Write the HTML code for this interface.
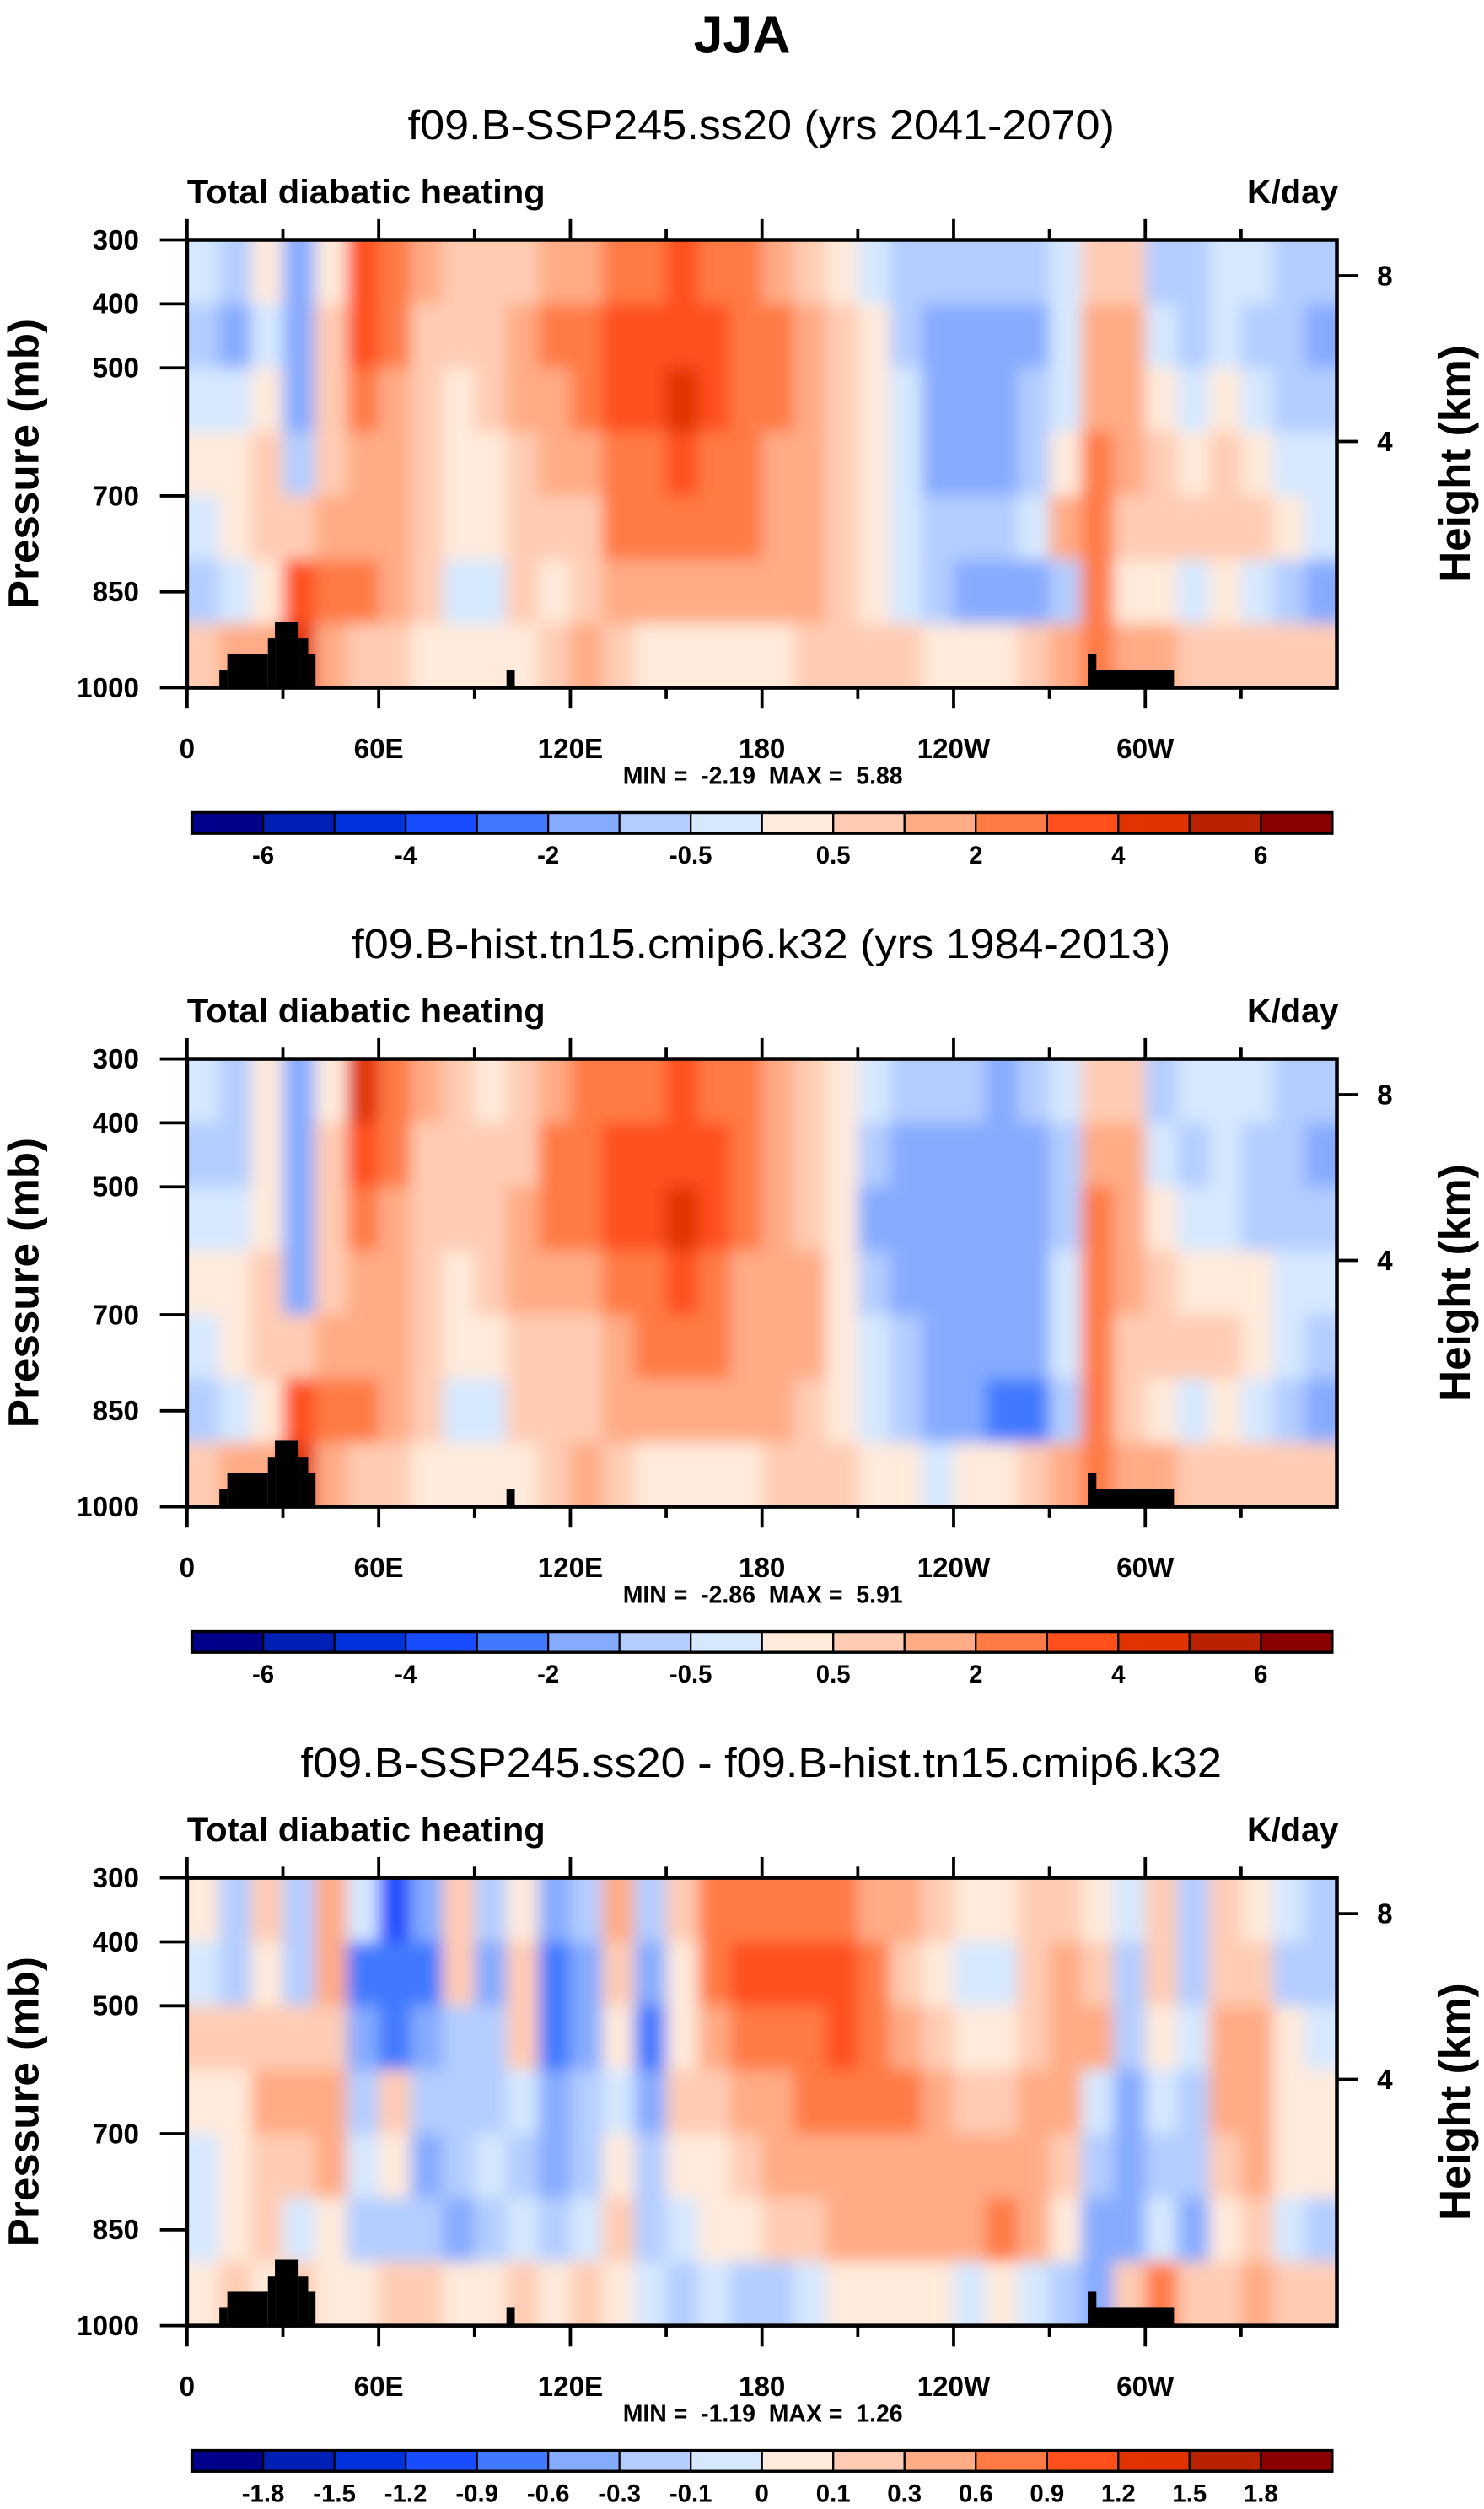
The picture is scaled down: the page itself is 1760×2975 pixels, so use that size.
<!DOCTYPE html>
<html><head><meta charset="utf-8"><style>
html,body{margin:0;padding:0;background:#fff}
svg{display:block}
text{font-family:"Liberation Sans",Arial,sans-serif}
.b{font-weight:bold}
</style></head><body>
<svg id="fig" xmlns="http://www.w3.org/2000/svg" width="1760" height="2975" viewBox="0 0 928 1568.6" preserveAspectRatio="none">
<defs>
<filter id="soft" x="-5%" y="-5%" width="110%" height="110%"><feGaussianBlur stdDeviation="5"/></filter>
</defs>
<rect x="0" y="0" width="928" height="1568.6" fill="#fff"/>
<text x="464" y="33" text-anchor="middle" class="b" font-size="33">JJA</text>
</svg>
<script>
// ---- data ----
const lonCenters = [5,15,25,35,45,55,65,75,85,95,105,115,125,135,145,155,165,175,185,195,205,215,225,235,245,255,265,275,285,295,305,315,325,335,345,355];
const levelBounds = [300,400,500,600,700,800,900,1000];
const levelsA = [-6,-5,-4,-3,-2,-1,-0.5,0,0.5,1,2,3,4,5,6];
const levelsD = [-1.8,-1.5,-1.2,-0.9,-0.6,-0.3,-0.1,0,0.1,0.3,0.6,0.9,1.2,1.5,1.8];
const labelsA = ["-6","","-4","","-2","","-0.5","","0.5","","2","","4","","6"];
const labelsD = ["-1.8","-1.5","-1.2","-0.9","-0.6","-0.3","-0.1","0","0.1","0.3","0.6","0.9","1.2","1.5","1.8"];
const xTickLons = [0,60,120,180,240,300];
const xTickLabels = ["0","60E","120E","180","120W","60W"];
const yTickP = [300,400,500,700,850,1000];
const hTicks = [8,4];
const hTickP = [356,615];
// values per longitude column, rows 300-400 ... 900-1000 mb
const field1 = [
[-0.25,-0.75,-0.25,0.25,-0.25,-0.75,0.75],[-0.75,-1.5,-0.25,0.25,0.25,-0.25,1.5],[0.25,-0.25,0.25,0.75,0.75,0.25,1.5],
[-1.5,-1.5,-1.5,-0.75,0.75,3.5,4],[0.25,0.75,0.75,0.75,1.5,2.5,1.5],[3.5,3,2.5,1.5,1.5,2,0.75],
[2.5,2.5,1.5,1.5,1.5,1.5,0.75],[1.5,0.75,0.75,0.75,0.75,0.75,0.25],[0.75,0.75,0.25,0.25,0.25,-0.5,0.25],
[0.75,0.75,0.75,0.25,0.25,-0.25,0.25],[0.75,1.5,1.5,0.75,0.75,0.75,0.25],[1.5,2,1.5,1.5,0.75,0.25,0.75],
[1.5,2.5,2.5,1.5,0.75,0.75,1.5],[2.5,3.5,3.5,2.5,2.5,1.5,0.75],[2.5,3.5,3.5,2.5,2.5,1.5,0.25],
[3.5,3.5,4,3.5,2.5,1.5,0.25],[2.5,3.5,3.5,2.5,2.5,1.5,0.25],[2.5,2.5,2.5,2.5,2.5,1.5,0.25],
[1.5,2.5,2.5,1.5,1.5,1.5,0.25],[0.75,1.5,1.5,1.5,1.5,1.5,0.75],[0.25,0.75,0.75,0.75,0.75,0.75,0.75],
[-0.25,0.25,0.25,0.25,0.25,0.25,0.75],[-0.75,-0.75,-0.25,-0.25,-0.25,-0.25,0.75],[-0.75,-1.5,-1.5,-1.5,-0.75,-0.75,0.25],
[-1,-1.5,-1.5,-1.5,-0.75,-1.5,0.25],[-1,-1.5,-1.5,-1.5,-0.75,-1.5,0.25],[-0.75,-1.5,-0.75,-0.75,-0.25,-1.5,0.75],
[-0.25,-0.25,-0.25,0.25,1,-0.75,1.5],[0.75,1.5,1.5,2.5,2.5,2.5,2.5],[0.75,1.5,1.5,1.5,0.75,0.25,1.5],
[-0.75,-0.25,0.25,0.75,0.75,0.25,1.5],[-0.75,-0.75,-0.25,0.25,0.75,-0.25,0.75],[-0.25,-0.25,0.25,0.75,0.75,0.25,0.75],
[-0.25,-0.75,-0.25,0.25,0.75,-0.25,0.75],[-0.75,-0.75,-0.75,-0.25,0.25,-0.75,0.75],[-0.75,-1.5,-1,-0.25,-0.25,-1.5,0.75]];
const field2 = [
[-0.25,-0.75,-0.25,0.25,-0.25,-0.75,0.75],[-0.75,-1,-0.25,0.25,0.25,-0.25,1.5],[0.25,0.25,0.25,0.75,0.75,0.25,1.5],
[-1.5,-1.5,-1.5,-1.5,0.75,3.5,4],[0.25,0.75,0.75,0.75,1.5,2,1.5],[4,3.5,2.5,1.5,1.5,2,0.75],
[2.5,2.5,1.5,1.5,1.5,1.5,0.75],[1.5,0.75,0.75,0.75,0.75,0.75,0.25],[0.75,0.75,0.75,0.25,0.25,-0.25,0.25],
[0.25,0.75,0.75,0.75,0.25,-0.25,0.25],[0.75,0.75,1.5,1.5,0.75,0.75,0.25],[1.5,2.5,2.5,1.5,0.75,0.75,0.75],
[2.5,2.5,2.5,1.5,0.75,0.75,1.5],[2.5,3.5,3.5,2.5,1.5,1.5,0.75],[2.5,3.5,3.5,2.5,2.5,1.5,0.25],
[3.5,3.5,4,3.5,2.5,1.5,0.25],[2.5,3.5,3.5,2.5,2.5,1.5,0.25],[2.5,2.5,2.5,1.5,1.5,1.5,0.25],
[1.5,1.5,1.5,1.5,1.5,1.5,0.75],[0.75,0.75,0.75,1.5,1.5,0.75,0.75],[0.25,0.25,0.25,0.25,0.25,0.25,0.75],
[-0.25,-0.75,-1.5,-0.75,-0.25,-0.25,0.25],[-0.75,-1.5,-1.5,-1.5,-0.75,-0.75,0.25],[-0.75,-1.5,-1.5,-1.5,-1.5,-1.5,-0.25],
[-1,-1.5,-1.5,-1.5,-1.5,-1.5,0.25],[-1.5,-1.5,-1.5,-1.5,-1.5,-2.5,0.25],[-0.75,-1.5,-1.5,-1.5,-1.5,-2.5,0.75],
[-0.25,-0.75,-0.75,-0.25,-0.25,-0.75,1.5],[0.75,1.5,2.5,2.5,2.5,2.5,2.5],[0.75,1.5,1.5,1.5,0.75,0.75,1.5],
[-0.75,-0.25,0.25,0.75,0.75,0.25,1.5],[-0.25,-0.75,-0.25,0.25,0.75,-0.25,0.75],[-0.25,-0.25,-0.25,0.25,0.75,0.25,0.75],
[-0.25,-0.75,-0.75,0.25,0.25,-0.25,0.75],[-0.75,-0.75,-0.75,-0.25,-0.25,-0.75,0.75],[-0.75,-1.5,-1,-0.25,-0.75,-1.5,0.75]];
const field3 = [
[0.05,-0.05,0.2,0.05,-0.05,-0.05,0.05],[-0.2,-0.2,0.2,0.05,0.05,0.05,0.2],[0.2,0.05,0.2,0.45,0.2,0.2,0.05],
[-0.2,-0.2,0.2,0.45,0.2,-0.05,0.2],[0.45,0.45,0.2,0.45,0.45,0.05,0.05],[-0.05,-0.75,-0.45,-0.2,-0.05,-0.2,0.05],
[-1.05,-0.75,-0.75,0.2,0.05,-0.2,0.2],[-0.45,-0.75,-0.45,-0.2,-0.45,-0.2,0.2],[0.2,0.2,-0.2,-0.2,-0.2,-0.45,0.05],
[-0.2,-0.45,-0.2,-0.2,-0.05,-0.2,0.05],[0.05,0.2,0.2,-0.05,-0.2,-0.05,0.2],[-0.45,-0.75,-0.75,-0.45,-0.45,-0.2,0.05],
[-0.2,-0.45,-0.45,-0.2,-0.2,-0.05,0.2],[0.45,0.2,0.05,-0.05,0.05,0.2,0.05],[-0.2,-0.45,-0.75,-0.45,-0.2,-0.2,-0.05],
[0.2,0.05,0.05,0.2,0.05,-0.05,-0.2],[0.75,0.75,0.45,0.2,0.05,0.05,-0.05],[0.75,1.05,0.75,0.45,0.2,0.05,-0.2],
[0.75,1.05,0.75,0.45,0.45,0.2,-0.2],[0.75,1.05,0.75,0.75,0.45,0.2,-0.05],[0.75,1.05,1.05,0.75,0.45,0.45,0.05],
[0.45,0.75,0.75,0.75,0.45,0.45,0.05],[0.45,0.2,0.45,0.75,0.45,0.45,0.05],[0.2,0.05,0.2,0.45,0.45,0.45,0.05],
[0.05,-0.05,0.05,0.2,0.45,0.45,-0.05],[0.05,-0.05,0.05,0.2,0.45,0.75,0.05],[0.2,0.2,0.2,0.45,0.45,0.45,-0.05],
[0.2,0.45,0.45,0.45,0.2,0.05,-0.2],[0.05,0.2,0.45,-0.05,-0.2,-0.45,-0.45],[-0.05,-0.2,-0.2,-0.45,-0.45,-0.45,0.2],
[0.2,0.2,0.05,-0.05,-0.2,-0.05,0.75],[-0.2,-0.2,-0.05,-0.2,-0.2,-0.45,0.2],[0.2,0.2,0.45,0.45,0.2,0.05,0.2],
[0.05,0.2,0.45,0.45,0.45,0.2,0.45],[-0.05,-0.2,0.05,0.05,0.05,-0.05,0.2],[-0.2,-0.2,-0.05,0.05,0.05,-0.2,0.2]];
const colors = ["#00008b","#001fb4","#0032dc","#1a4cff","#4079ff","#85abff","#b3cdff","#d6e8ff","#ffeadb","#ffccb3","#ffab85","#ff7a45","#ff4f1a","#e03300","#b82200","#8b0000"];
// terrain blocks [lon0, lon1, top pressure]
const terrain = [[10.1,12.6,972],[12.6,25.3,947],[25.3,27.5,923],[27.5,34.9,897],[34.9,37.9,923],[37.9,40.2,947],[100,102.6,972],[282,309,972],[282,284.7,947]];
const panelTitles = ["f09.B-SSP245.ss20 (yrs 2041-2070)","f09.B-hist.tn15.cmip6.k32 (yrs 1984-2013)","f09.B-SSP245.ss20 - f09.B-hist.tn15.cmip6.k32"];
const titleWidths = [442,512,576];
const minVals = ["-2.19","-2.86","-1.19"];
const maxVals = ["5.88","5.91","1.26"];

// ---- drawing ----
const NS="http://www.w3.org/2000/svg";
const svg=document.getElementById('fig');
function mk(tag,attrs,parent){const e=document.createElementNS(NS,tag);for(const k in attrs)e.setAttribute(k,attrs[k]);(parent||svg).appendChild(e);return e;}
const X0=117,X1=836,H=280;
function xs(lon){return X0+(lon/360)*(X1-X0);}
function classOf(v,lev){let k=0;while(k<lev.length&&v>=lev[k])k++;return k;}
const fields=[field1,field2,field3];
const levelSets=[levelsA,levelsA,levelsD];
const labelSets=[labelsA,labelsA,labelsD];
const tops=[150,662,1174];
for(let p=0;p<3;p++){
  const T=tops[p];
  const ys=pr=>T+(pr-300)/700*H;
  const g=mk('g',{});
  
  
  const st=mk('text',{x:476,y:T-63,'text-anchor':'middle','font-size':26,textLength:titleWidths[p],lengthAdjust:'spacingAndGlyphs'},g);
  st.textContent=panelTitles[p];
  
  
  const lt=mk('text',{x:117,y:T-23,'font-size':21,class:'b',textLength:224,lengthAdjust:'spacingAndGlyphs'},g);lt.textContent='Total diabatic heating';
  
  
  const rt=mk('text',{x:837,y:T-23,'font-size':21,class:'b','text-anchor':'end'},g);rt.textContent='K/day';
  
  
  const cp=mk('clipPath',{id:'clip'+p},g);mk('rect',{x:X0,y:T,width:X1-X0,height:H},cp);
  const outer=mk('g',{'clip-path':'url(#clip'+p+')'},g);
  const cells=mk('g',{filter:'url(#soft)'},outer);
  
  
  const f=fields[p];
  for(let c=0;c<lonCenters.length;c++){
    for(let r=0;r<levelBounds.length-1;r++){
      let xa=xs(lonCenters[c]-5),xb=xs(lonCenters[c]+5);
      let ya=ys(levelBounds[r]),yb=ys(levelBounds[r+1]);
      if(c===0)xa-=16; if(c===lonCenters.length-1)xb+=16;
      if(r===0)ya-=16; if(r===levelBounds.length-2)yb+=16;
      const rc=mk('rect',{x:xa,y:ya,width:xb-xa+0.6,height:yb-ya+0.6,fill:colors[classOf(f[c][r],levelSets[p])]},cells);
      
      
    }
  }
  for(const t of terrain){
    const tr=mk('rect',{x:xs(t[0]),y:ys(t[2]),width:xs(t[1])-xs(t[0]),height:ys(1000)-ys(t[2])+2,fill:'#000'},outer);
    
    
  }
  const fr=mk('rect',{x:X0,y:T,width:X1-X0,height:H,fill:'none',stroke:'#000','stroke-width':2.4},g);
  
  
  for(let lon=0;lon<=330;lon+=30){
    const major=lon%60===0;const L=major?13:7;
    mk('line',{x1:xs(lon),x2:xs(lon),y1:T,y2:T-L,stroke:'#000','stroke-width':2},g);
    mk('line',{x1:xs(lon),x2:xs(lon),y1:T+H,y2:T+H+L,stroke:'#000','stroke-width':2},g);
  }
  for(let i=0;i<xTickLons.length;i++){
    const tx=mk('text',{x:xs(xTickLons[i]),y:T+H+44,'text-anchor':'middle','font-size':17.5,class:'b'},g);
    tx.textContent=xTickLabels[i];
    
    
  }
  for(const pr of yTickP){
    mk('line',{x1:X0-17,x2:X0,y1:ys(pr),y2:ys(pr),stroke:'#000','stroke-width':2},g);
    const ty=mk('text',{x:87,y:ys(pr)+6,'text-anchor':'end','font-size':17.5,class:'b'},g);
    ty.textContent=String(pr);
    
    
  }
  for(let i=0;i<hTicks.length;i++){
    const y=ys(hTickP[i]);
    mk('line',{x1:X1,x2:X1+13,y1:y,y2:y,stroke:'#000','stroke-width':2},g);
    const th=mk('text',{x:866,y:y+6,'text-anchor':'middle','font-size':17.5,class:'b'},g);
    th.textContent=String(hTicks[i]);
    
    
  }
  const yt=mk('text',{x:0,y:0,'text-anchor':'middle','font-size':27,class:'b',transform:'translate(24,'+(T+140)+') rotate(-90)'},g);
  yt.textContent='Pressure (mb)';
  
  
  const ht=mk('text',{x:0,y:0,'text-anchor':'middle','font-size':27,class:'b',transform:'translate(919,'+(T+140)+') rotate(-90)'},g);
  ht.textContent='Height (km)';
  
  
  const mm=mk('text',{x:477,y:T+340,'text-anchor':'middle','font-size':15,class:'b'},g);
  mm.textContent='MIN =\u00a0\u00a0'+minVals[p]+'\u00a0\u00a0MAX =\u00a0\u00a0'+maxVals[p];
  
  
  const cb=mk('g',{},g);
  
  
  const bx0=120,bx1=833,by=T+358,bh=13,bw=(bx1-bx0)/colors.length;
  for(let k=0;k<colors.length;k++){
    const br=mk('rect',{x:bx0+k*bw,y:by,width:bw,height:bh,fill:colors[k],stroke:'#000','stroke-width':1.2},cb);
    
    
  }
  mk('rect',{x:bx0,y:by,width:bx1-bx0,height:bh,fill:'none',stroke:'#000','stroke-width':1.8},cb);
  const labs=labelSets[p];
  for(let k=0;k<labs.length;k++){
    if(!labs[k])continue;
    const cl=mk('text',{x:bx0+(k+1)*bw,y:by+32,'text-anchor':'middle','font-size':15.5,class:'b'},cb);
    cl.textContent=labs[k];
    
    
  }
}
</script>
</body></html>
